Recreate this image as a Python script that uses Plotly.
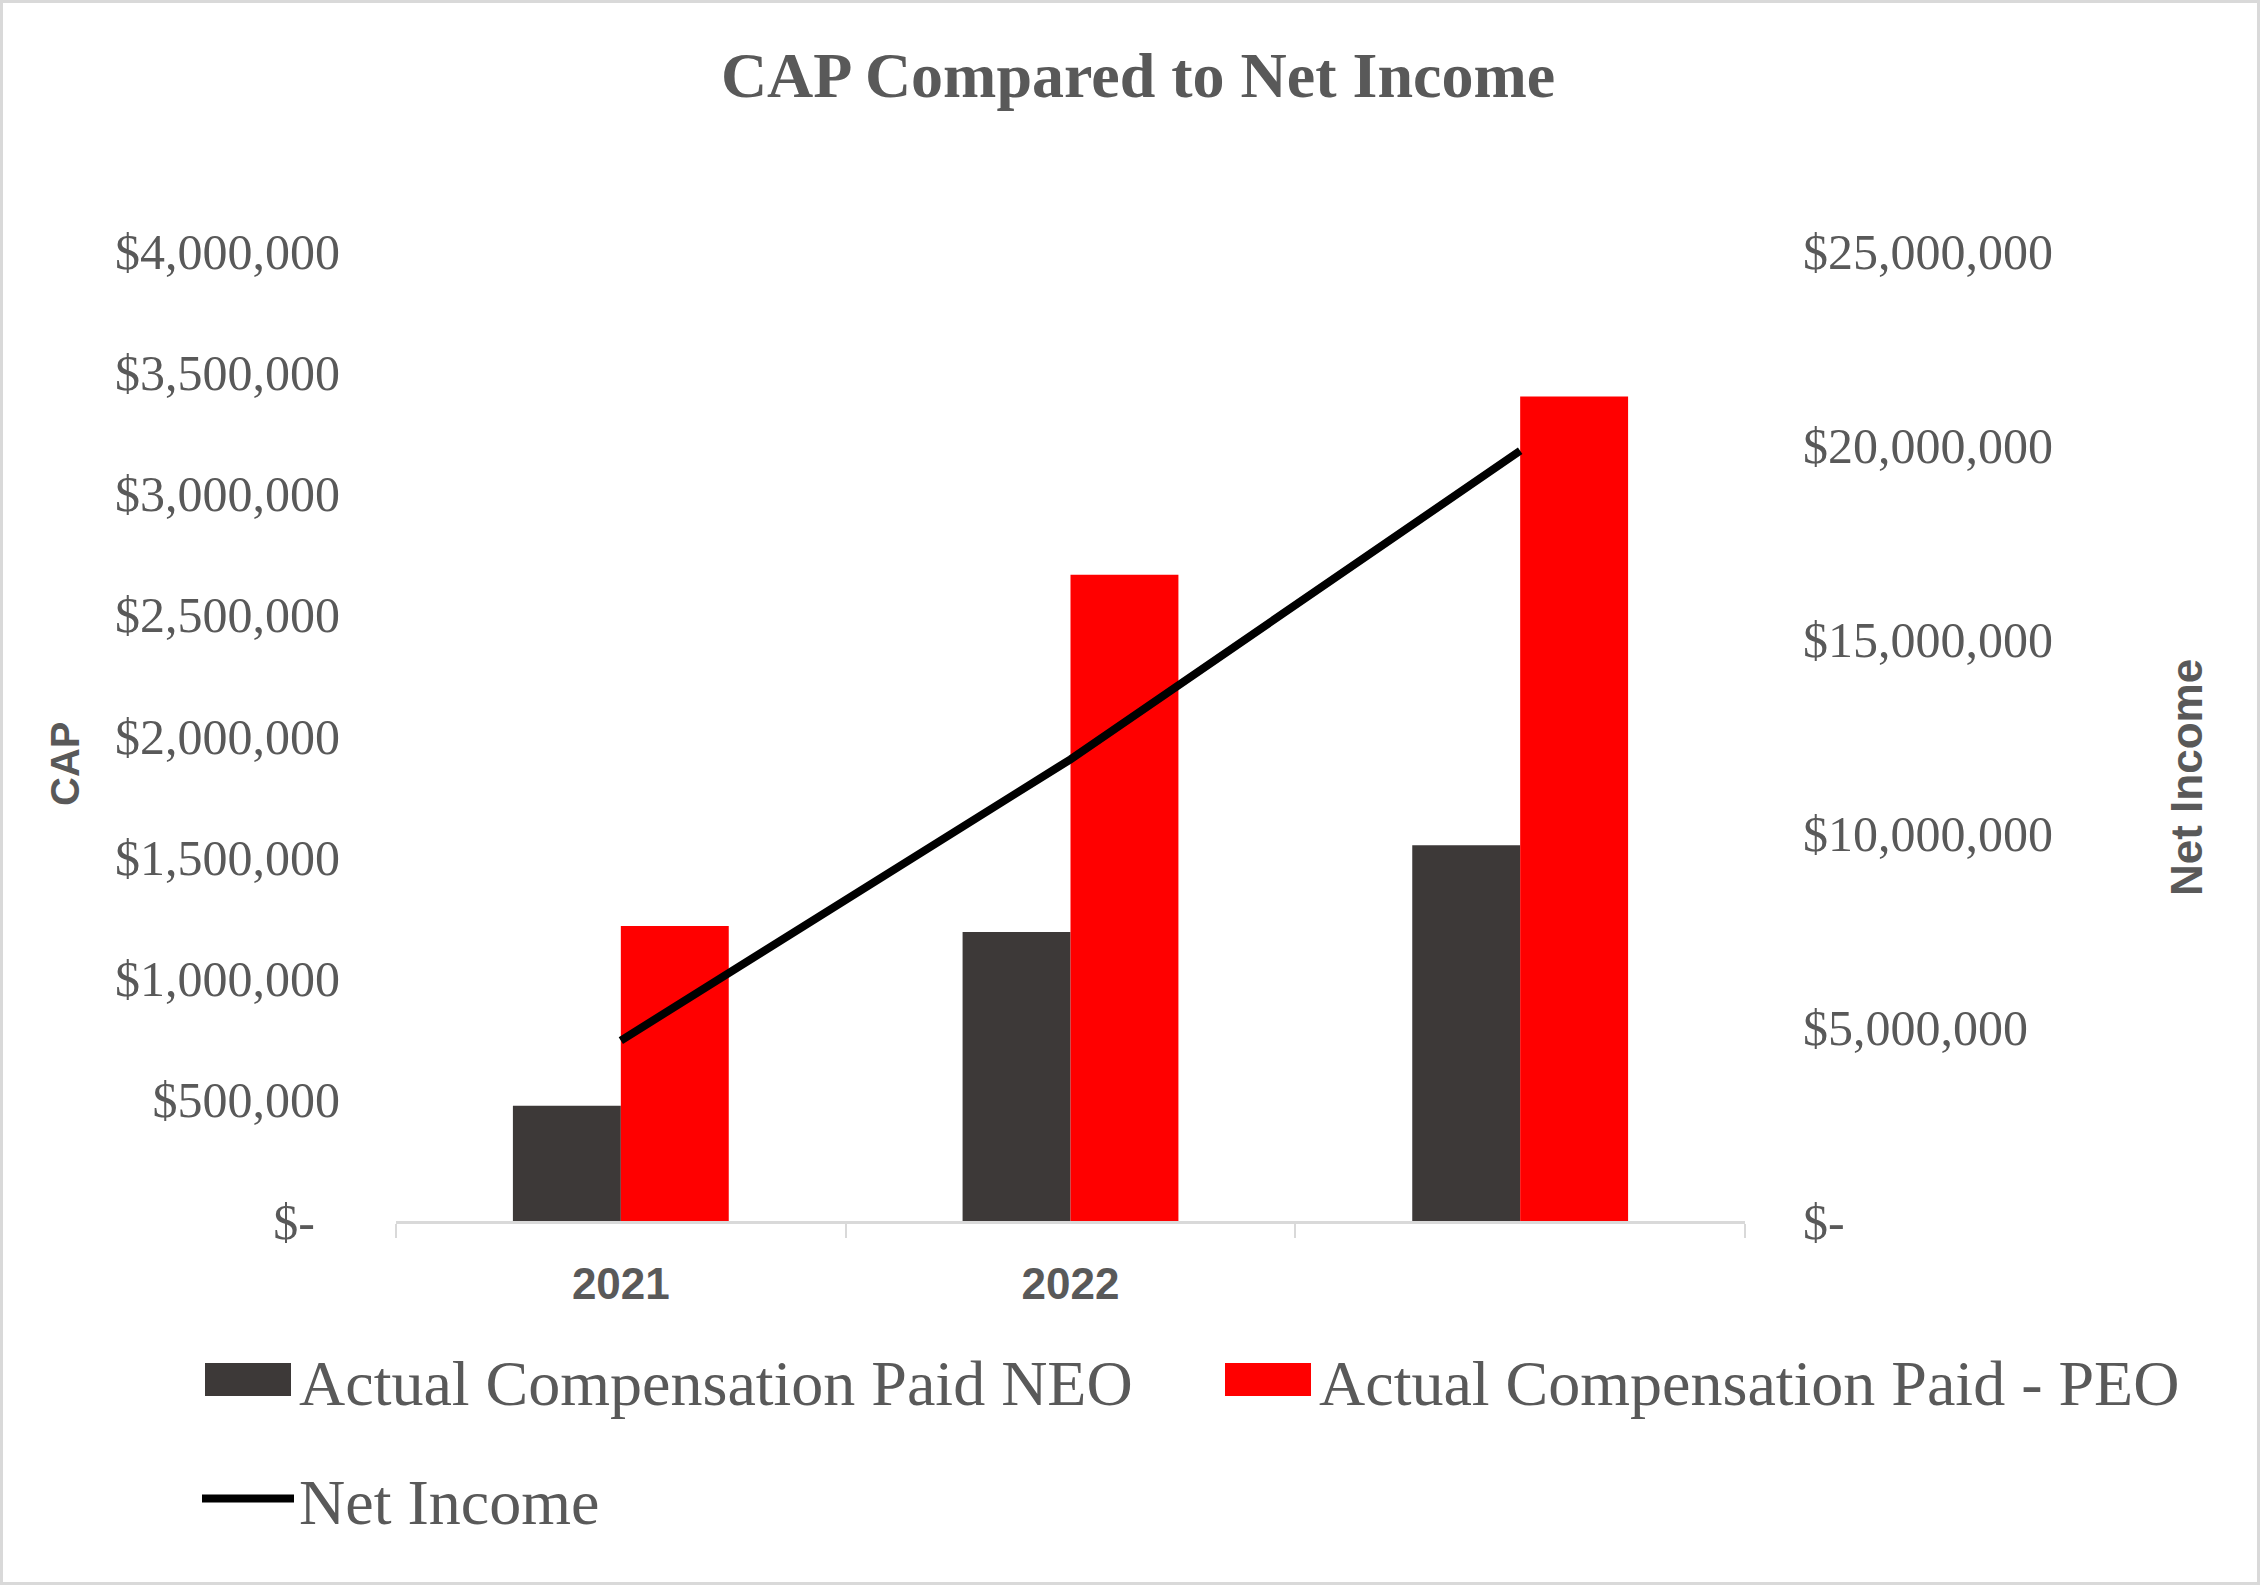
import plotly.graph_objects as go

# ---- data ----
years = ["2021", "2022", " "]
cap_neo = [475000, 1192000, 1550000]
cap_peo = [1217000, 2665000, 3400000]
net_income = [4650000, 11900000, 19850000]

left_tickvals = [0, 500000, 1000000, 1500000, 2000000, 2500000, 3000000, 3500000, 4000000]
left_ticktext = ["$-\u00a0\u00a0", "$500,000", "$1,000,000", "$1,500,000", "$2,000,000",
                 "$2,500,000", "$3,000,000", "$3,500,000", "$4,000,000"]
right_tickvals = [0, 5000000, 10000000, 15000000, 20000000, 25000000]
right_ticktext = ["$-", "$5,000,000", "$10,000,000", "$15,000,000", "$20,000,000", "$25,000,000"]

W, H = 2260, 1585
ML, MR, MT, MB = 396, 515, 251, 364
PW, PH = W - ML - MR, H - MT - MB

GRAY = "#595959"
SERIF = "Liberation Serif, Times New Roman, serif"
SANS = "Liberation Sans, Arial, sans-serif"


def px_x(x):
    return (x - ML) / PW


def px_y(y):
    return 1 - (y - MT) / PH


fig = go.Figure()
fig.add_trace(go.Bar(x=years, y=cap_neo, name="Actual Compensation Paid NEO",
                     marker=dict(color="#3D3938", line=dict(width=0)), legend="legend"))
fig.add_trace(go.Bar(x=years, y=cap_peo, name="Actual Compensation Paid - PEO",
                     marker=dict(color="#FF0000", line=dict(width=0)), legend="legend2"))
fig.add_trace(go.Scatter(x=years, y=net_income, name="Net Income", mode="lines",
                         line=dict(color="black", width=8), yaxis="y2", legend="legend3"))

LEG_FONT = dict(family=SERIF, size=64, color=GRAY)


def legend_at(x, y):
    return dict(orientation="h", xref="container", yref="container",
                x=x / W, xanchor="left", y=1 - y / H, yanchor="middle",
                font=LEG_FONT, itemwidth=92, bgcolor="rgba(0,0,0,0)")


fig.update_layout(
    width=W, height=H,
    showlegend=True,
    margin=dict(l=ML, r=MR, t=MT, b=MB, autoexpand=False),
    paper_bgcolor="white", plot_bgcolor="white",
    font=dict(family=SERIF, color=GRAY),
    barmode="group", bargap=0.52, bargroupgap=0,
    title=dict(text="<b>CAP Compared to Net Income</b>", x=1138 / W, xanchor="center",
               y=1 - 75 / H, yanchor="middle", xref="container", yref="container",
               font=dict(family=SERIF, size=64, color=GRAY)),
    xaxis=dict(type="category", showline=True, linecolor="#D9D9D9", linewidth=3,
               ticks="outside", tickson="boundaries", ticklen=14, tickcolor="#D9D9D9",
               tickwidth=2, showgrid=False, zeroline=False,
               tickfont=dict(family=SANS, size=44, color=GRAY, weight="bold"),
               ticklabelstandoff=22),
    yaxis=dict(range=[0, 4000000], tickvals=left_tickvals, ticktext=left_ticktext,
               showgrid=False, zeroline=False, showline=False, ticks="",
               tickfont=dict(family=SERIF, size=50, color=GRAY), ticklabelstandoff=55),
    yaxis2=dict(range=[0, 25000000], tickvals=right_tickvals, ticktext=right_ticktext,
                overlaying="y", side="right", showgrid=False, zeroline=False,
                showline=False, ticks="",
                tickfont=dict(family=SERIF, size=50, color=GRAY), ticklabelstandoff=57),
    legend=legend_at(197, 1380),
    legend2=legend_at(1217, 1380),
    legend3=legend_at(197, 1499),
    annotations=[
        dict(text="<b>CAP</b>", xref="paper", yref="paper", x=px_x(65), y=px_y(764),
             textangle=-90, showarrow=False, xanchor="center", yanchor="middle",
             font=dict(family=SANS, size=40, color=GRAY)),
        dict(text="<b>Net Income</b>", xref="paper", yref="paper", x=px_x(2186), y=px_y(778),
             textangle=-90, showarrow=False, xanchor="center", yanchor="middle",
             font=dict(family=SANS, size=44, color=GRAY)),
    ],
    shapes=[
        dict(type="rect", xref="paper", yref="paper",
             x0=px_x(1.5), x1=px_x(W - 1.5), y0=px_y(H - 1.5), y1=px_y(1.5),
             line=dict(color="#D9D9D9", width=3), fillcolor="rgba(0,0,0,0)", layer="below"),
    ],
)

# enlarge the bar legend swatches to the wide rectangles of the original
post = """
var gd = document.getElementById('{plot_id}');
function fixSwatches() {
  var paths = gd.querySelectorAll('g.legendpoints path');
  for (var i = 0; i < paths.length; i++) {
    var d = paths[i].getAttribute('d') || '';
    if (d.replace(/\\s/g, '') === 'M6,6H-6V-6H6Z') {
      paths[i].setAttribute('d', 'M-43,16.5H43V-16.5H-43Z');
    }
  }
}
fixSwatches();
var n = 0;
var iv = setInterval(function () { fixSwatches(); n += 1; if (n > 40) clearInterval(iv); }, 100);
if (gd.on) { gd.on('plotly_afterplot', fixSwatches); }
"""

fig.write_html("out.html", post_script=post)
